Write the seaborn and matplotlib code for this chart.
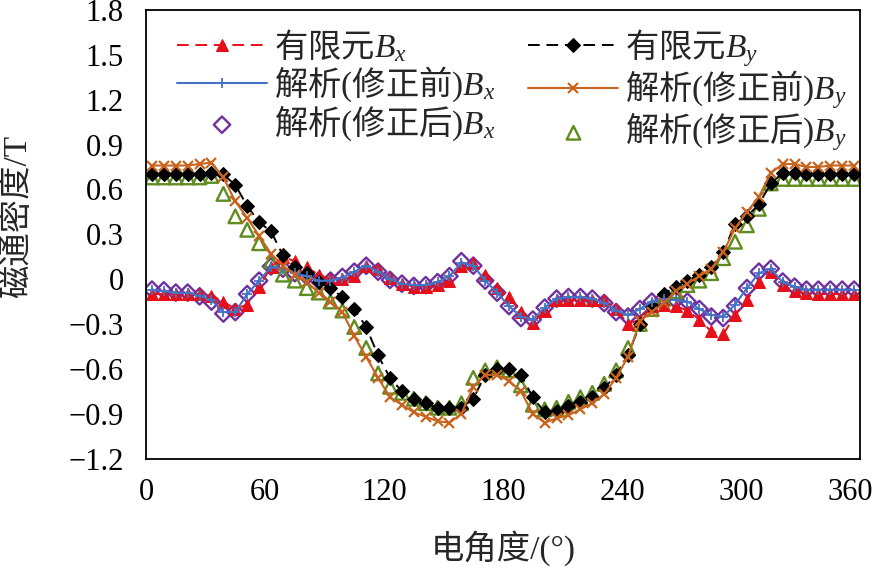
import matplotlib
matplotlib.use("Agg")
import matplotlib.pyplot as plt
import matplotlib.transforms as mtransforms
from matplotlib.font_manager import FontProperties
import seaborn as sns
from matplotlib.ticker import FuncFormatter

# Electrical angle (deg), sampled every 6 degrees
angle = list(range(3, 360, 6))

# FEA results
fea_bx = [-0.10, -0.10, -0.10, -0.10, -0.10, -0.11, -0.15, -0.20, -0.17, -0.05,
          0.08, 0.15, 0.12, 0.08, 0.03, 0.00, 0.00, 0.02, 0.09, 0.07,
          0.01, -0.03, -0.05, -0.05, -0.04, -0.01, 0.09, 0.11, 0.03, -0.06,
          -0.12, -0.22, -0.29, -0.21, -0.14, -0.14, -0.14, -0.14, -0.14, -0.20,
          -0.30, -0.27, -0.18, -0.17, -0.18, -0.21, -0.27, -0.35, -0.37, -0.24,
          -0.14, -0.02, 0.045, -0.04, -0.08, -0.095, -0.10, -0.10, -0.10, -0.10]
fea_by = [0.70, 0.70, 0.70, 0.70, 0.70, 0.71, 0.70, 0.63, 0.49, 0.38,
          0.32, 0.16, 0.08, 0.04, -0.02, -0.06, -0.12, -0.20, -0.32, -0.51,
          -0.66, -0.75, -0.80, -0.83, -0.86, -0.86, -0.86, -0.80, -0.64, -0.60,
          -0.60, -0.64, -0.79, -0.89, -0.88, -0.85, -0.82, -0.79, -0.73, -0.64,
          -0.51, -0.30, -0.18, -0.10, -0.05, -0.01, 0.03, 0.08, 0.18, 0.37,
          0.42, 0.50, 0.64, 0.71, 0.71, 0.70, 0.70, 0.70, 0.70, 0.70]

# analytical model before correction
ana_bx = [-0.07, -0.08, -0.09, -0.09, -0.11, -0.14, -0.22, -0.22, -0.10, -0.01,
          0.08, 0.07, 0.04, 0.02, -0.01, -0.01, 0.01, 0.05, 0.09, 0.05,
          0.00, -0.03, -0.04, -0.04, -0.02, 0.02, 0.11, 0.09, -0.01, -0.09,
          -0.18, -0.25, -0.27, -0.19, -0.13, -0.12, -0.12, -0.13, -0.16, -0.21,
          -0.24, -0.20, -0.15, -0.13, -0.14, -0.15, -0.20, -0.24, -0.25, -0.17,
          -0.06, 0.04, 0.07, -0.02, -0.05, -0.07, -0.07, -0.07, -0.07, -0.07]
ana_by = [0.76, 0.76, 0.76, 0.76, 0.77, 0.78, 0.68, 0.52, 0.41, 0.29,
          0.17, 0.09, 0.03, -0.02, -0.09, -0.15, -0.22, -0.38, -0.52, -0.66,
          -0.79, -0.84, -0.89, -0.92, -0.95, -0.96, -0.90, -0.72, -0.64, -0.64,
          -0.68, -0.75, -0.90, -0.96, -0.93, -0.91, -0.87, -0.83, -0.77, -0.66,
          -0.52, -0.28, -0.22, -0.16, -0.08, -0.03, 0.02, 0.07, 0.18, 0.34,
          0.45, 0.55, 0.71, 0.77, 0.77, 0.75, 0.75, 0.76, 0.76, 0.76]

# analytical model after correction
cor_bx = [-0.07, -0.075, -0.09, -0.09, -0.115, -0.15, -0.23, -0.22, -0.10, -0.01,
          0.085, 0.07, 0.04, 0.02, -0.01, -0.01, 0.015, 0.05, 0.09, 0.05,
          -0.005, -0.03, -0.045, -0.04, -0.02, 0.02, 0.12, 0.09, -0.01, -0.09,
          -0.18, -0.26, -0.27, -0.19, -0.13, -0.12, -0.12, -0.13, -0.16, -0.22,
          -0.25, -0.20, -0.15, -0.13, -0.14, -0.15, -0.20, -0.25, -0.26, -0.18,
          -0.06, 0.05, 0.07, -0.016, -0.05, -0.07, -0.07, -0.07, -0.07, -0.07]
cor_by = [0.68, 0.68, 0.68, 0.68, 0.68, 0.69, 0.57, 0.42, 0.33, 0.24,
          0.12, 0.03, -0.01, -0.06, -0.09, -0.15, -0.21, -0.32, -0.46, -0.63,
          -0.72, -0.76, -0.80, -0.83, -0.86, -0.86, -0.83, -0.66, -0.61, -0.59,
          -0.61, -0.71, -0.84, -0.87, -0.86, -0.82, -0.79, -0.76, -0.70, -0.61,
          -0.46, -0.30, -0.20, -0.13, -0.08, -0.04, -0.01, 0.04, 0.14, 0.25,
          0.36, 0.47, 0.64, 0.67, 0.67, 0.67, 0.67, 0.67, 0.67, 0.67]

x_ticks = [0, 60, 120, 180, 240, 300, 360]
y_ticks = [-1.2, -0.9, -0.6, -0.3, 0, 0.3, 0.6, 0.9, 1.2, 1.5, 1.8]

# legend labels (parentheses drawn with the serif font through \mathbf)
lab_fea_bx = r"有限元$B_x$"
lab_fea_by = r"有限元$B_y$"
lab_ana_bx = r"解析$\mathbf{(}$修正前$\mathbf{)}B_x$"
lab_ana_by = r"解析$\mathbf{(}$修正前$\mathbf{)}B_y$"
lab_cor_bx = r"解析$\mathbf{(}$修正后$\mathbf{)}B_x$"
lab_cor_by = r"解析$\mathbf{(}$修正后$\mathbf{)}B_y$"


def main():
    sns.set_style("white")
    plt.rcParams["font.family"] = ["Liberation Serif", "Noto Sans CJK SC"]
    plt.rcParams["mathtext.fontset"] = "custom"
    plt.rcParams["mathtext.rm"] = "Noto Sans CJK SC"
    plt.rcParams["mathtext.bf"] = "Liberation Serif"
    plt.rcParams["mathtext.it"] = "Liberation Serif:italic"
    plt.rcParams["font.size"] = 22

    fig = plt.figure(figsize=(8.75, 5.68), dpi=100)
    ax = fig.add_axes([0.1669, 0.1926, 0.8160, 0.7898])

    red, black, blue = "#E5101A", "#000000", "#4472C4"
    orange, purple, green = "#C8641E", "#7030A0", "#5E8C1E"
    dash = (0, (6, 3.5))

    sns.lineplot(x=angle, y=fea_bx, ax=ax, color=red, linestyle=dash, lw=1.4,
                 marker="^", ms=9, mec=red, mfc=red, label=lab_fea_bx)
    sns.lineplot(x=angle, y=fea_by, ax=ax, color=black, linestyle=dash, lw=1.4,
                 marker="D", ms=7.5, mec=black, mfc=black, label=lab_fea_by)
    sns.scatterplot(x=angle, y=cor_bx, ax=ax, marker="D", s=70, facecolors="none",
                    edgecolor=purple, linewidth=1.7, label=lab_cor_bx)
    sns.scatterplot(x=angle, y=cor_by, ax=ax, marker="^", s=95, facecolors="none",
                    edgecolor=green, linewidth=1.7, label=lab_cor_by)
    sns.lineplot(x=angle, y=ana_bx, ax=ax, color=blue, lw=1.5,
                 marker="+", ms=7, mew=1.3, mec=blue, label=lab_ana_bx)
    sns.lineplot(x=angle, y=ana_by, ax=ax, color=orange, lw=1.5,
                 marker="x", ms=7, mew=1.6, mec=orange, label=lab_ana_by)

    ax.set_xlim(0, 360)
    ax.set_ylim(-1.2, 1.8)
    ax.set_xticks(x_ticks)
    ax.set_yticks(y_ticks)
    ax.yaxis.set_major_formatter(FuncFormatter(
        lambda v, p: "0" if abs(v) < 1e-9 else f"{v:.1f}".replace("-", "\u2212")))
    ax.tick_params(direction="in", length=7, width=1.2, labelsize=22, colors="black")
    ax.tick_params(axis="x", pad=14)
    ax.tick_params(axis="y", pad=16)
    for s in ax.spines.values():
        s.set_color("black")
        s.set_linewidth(1.3)

    # last x tick label is pulled inside the figure, as in the original
    fig.canvas.draw()
    last = ax.get_xticklabels()[-1]
    last.set_horizontalalignment("right")
    last.set_transform(last.get_transform() +
                       mtransforms.ScaledTranslation(0.13, 0, fig.dpi_scale_trans))

    ax.set_xlabel("电角度/(°)", fontsize=24)
    ax.xaxis.set_label_coords(0.5, -0.16)
    ax.set_ylabel("磁通密度/T", fontsize=24)
    ax.yaxis.set_label_coords(-0.158, 0.54)

    h, l = ax.get_legend_handles_labels()
    order = [lab_fea_bx, lab_ana_bx, lab_cor_bx, lab_fea_by, lab_ana_by, lab_cor_by]
    hd = dict(zip(l, h))
    leg_font = FontProperties(family="Noto Sans CJK SC", size=24)
    ax.legend([hd[k] for k in order], order, ncol=2, frameon=False,
              loc="upper left", bbox_to_anchor=(0.02, 1.0), borderpad=0,
              handlelength=2.7, handletextpad=0.2, columnspacing=1.0,
              labelspacing=0.0, prop=leg_font, scatterpoints=1)

    fig.savefig("out.png", dpi=100)


if __name__ == "__main__":
    main()
